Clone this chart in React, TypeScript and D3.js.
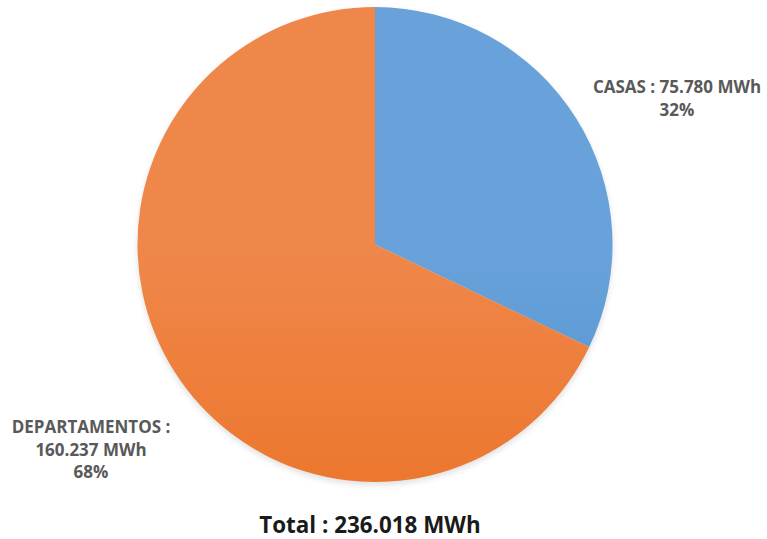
import React from "react";
import * as d3 from "d3";

const categories = ["CASAS", "DEPARTAMENTOS"];
const values = [75.78, 160.237];
const valueLabels = ["75.780 MWh", "160.237 MWh"];
const percentLabels = ["32%", "68%"];
const totalLabel = "Total : 236.018 MWh";
const colorsTop = ["#69a2da", "#ef874a"];
const colorsMid = ["#4f92d0", "#ec772e"];
const colorsBottom = ["#377dc0", "#e2661e"];

const W = 767;
const H = 539;
const cx = 375;
const cy = 244.5;
const R = 237.5;

export default function App() {
  const pie = d3.pie<number>().sort(null).startAngle(0).endAngle(2 * Math.PI);
  const arcs = pie(values);
  const arcGen = d3.arc<d3.PieArcDatum<number>>().innerRadius(0).outerRadius(R);
  const font = "'Open Sans', sans-serif";
  const labelStyle = { fontFamily: font, fontWeight: 700, fontSize: 17, fill: "#595959" } as const;
  return (
    <svg width={W} height={H} style={{ position: "absolute", left: 0, top: 0 }}>
      <defs>
        {categories.map((c, i) => (
          <linearGradient key={c} id={`g${i}`} x1="0" y1={cy - R} x2="0" y2={cy + R} gradientUnits="userSpaceOnUse">
            <stop offset="0" stopColor={colorsTop[i]} />
            <stop offset="0.5" stopColor={colorsMid[i]} />
            <stop offset="1" stopColor={colorsBottom[i]} />
          </linearGradient>
        ))}
        <filter id="sh" x="-20%" y="-20%" width="140%" height="140%">
          <feGaussianBlur stdDeviation="3" />
        </filter>
      </defs>
      <rect width={W} height={H} fill="#ffffff" />
      <circle cx={cx} cy={cy + 3} r={R} fill="#000" opacity={0.12} filter="url(#sh)" />
      <g transform={`translate(${cx},${cy})`}>
        {arcs.map((a, i) => (
          <path key={categories[i]} d={arcGen(a) || ""} fill={`url(#g${i})`} />
        ))}
      </g>
      <text x={677} y={93} textAnchor="middle" style={labelStyle}>
        {`${categories[0]} : ${valueLabels[0]}`}
      </text>
      <text x={677} y={116} textAnchor="middle" style={labelStyle}>
        {percentLabels[0]}
      </text>
      <text x={91} y={433} textAnchor="middle" style={labelStyle}>
        {`${categories[1]} :`}
      </text>
      <text x={91} y={456} textAnchor="middle" style={labelStyle}>
        {valueLabels[1]}
      </text>
      <text x={91} y={478} textAnchor="middle" style={labelStyle}>
        {percentLabels[1]}
      </text>
      <text x={370} y={533} textAnchor="middle" style={{ fontFamily: font, fontWeight: 700, fontSize: 22.4, fill: "#1a1a1a" }}>
        {totalLabel}
      </text>
    </svg>
  );
}
